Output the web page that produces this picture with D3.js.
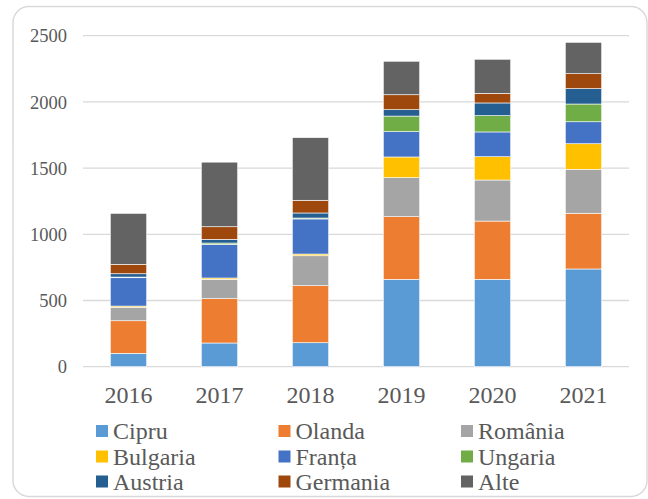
<!DOCTYPE html>
<html><head><meta charset="utf-8">
<script src="https://cdn.jsdelivr.net/npm/d3@7"></script>
<style>html,body{margin:0;padding:0;background:#fff;overflow:hidden}</style>
</head><body>
<svg id="c" width="648" height="499"></svg>
<script>
const years = ["2016","2017","2018","2019","2020","2021"];
const seriesNames = ["Cipru","Olanda","România","Bulgaria","Franța","Ungaria","Austria","Germania","Alte"];
const colors = ["#5B9BD5","#ED7D31","#A5A5A5","#FFC000","#4472C4","#70AD47","#255E91","#9E480E","#636363"];
const Cipru    = [101, 179, 181, 660, 660, 738];
const Olanda   = [246, 335, 431, 473, 440, 421];
const Romania  = [102, 146, 226, 295, 310, 332];
const Bulgaria = [9, 10, 13, 156, 176, 193];
const Franta   = [214, 254, 265, 191, 187, 166];
const Ungaria  = [5, 10, 7, 118, 123, 134];
const Austria  = [25, 28, 38, 48, 96, 116];
const Germania = [71, 95, 96, 113, 73, 113];
const Alte     = [385, 488, 473, 253, 257, 237];
const yTicks = [0, 500, 1000, 1500, 2000, 2500];

const seriesValues = [Cipru, Olanda, Romania, Bulgaria, Franta, Ungaria, Austria, Germania, Alte];
const table = years.map((y, i) => {
  const row = {year: y};
  seriesNames.forEach((s, k) => row[s] = seriesValues[k][i]);
  return row;
});

const svg = d3.select("#c");
const font = "Liberation Serif, Tinos, serif";
const textColor = "#595959";

svg.append("rect").attr("x", 13).attr("y", 6.5).attr("width", 634).attr("height", 490)
  .attr("rx", 16).attr("fill", "#fff").attr("stroke", "#d9d9d9").attr("stroke-width", 1.5);

const x = d3.scaleBand().domain(years).range([83, 629]).paddingInner(0.6).paddingOuter(0.3);
const y = d3.scaleLinear().domain([0, 2500]).range([366.7, 35.7]);

// gridlines
svg.append("g").selectAll("line").data(yTicks).join("line")
  .attr("x1", 83).attr("x2", 629)
  .attr("y1", d => y(d)).attr("y2", d => y(d))
  .attr("stroke", "#d9d9d9").attr("stroke-width", 1.3);

// y axis labels
const yAxis = d3.axisLeft(y).tickValues(yTicks).tickSize(0).tickPadding(0).tickFormat(d3.format("d"));
const gy = svg.append("g").attr("transform", "translate(67,0)").call(yAxis);
gy.select(".domain").remove();
gy.selectAll("text").style("font-family", font).style("font-size", "18.5px").attr("fill", textColor).attr("dy", "0.33em");

// stacked bars
const stack = d3.stack().keys(seriesNames)(table);
svg.append("g").selectAll("g").data(stack).join("g")
  .attr("fill", (d, i) => colors[i])
  .selectAll("rect").data(d => d).join("rect")
  .attr("x", d => x(d.data.year))
  .attr("width", x.bandwidth())
  .attr("y", d => y(d[1]))
  .attr("height", d => y(d[0]) - y(d[1]))
  .attr("stroke", "#fff").attr("stroke-width", 0.6);

// x axis labels
const xAxis = d3.axisBottom(x).tickSize(0).tickPadding(0);
const gx = svg.append("g").attr("transform", "translate(0,403)").call(xAxis);
gx.select(".domain").remove();
gx.selectAll("text").style("font-family", font).style("font-size", "24px").attr("fill", textColor).attr("dy", 0);

// legend
const legX = [96, 278.5, 461];
const legY = [431, 456.5, 481.5];
const leg = svg.append("g").selectAll("g").data(seriesNames).join("g")
  .attr("transform", (d, i) => `translate(${legX[i % 3]},${legY[Math.floor(i / 3)]})`);
leg.append("rect").attr("x", 0).attr("y", -6).attr("width", 12).attr("height", 12)
  .attr("fill", (d, i) => colors[i]);
leg.append("text").attr("x", 17).attr("y", 8).text(d => d)
  .style("font-family", font).style("font-size", "24px").attr("fill", textColor);
</script>
</body></html>
